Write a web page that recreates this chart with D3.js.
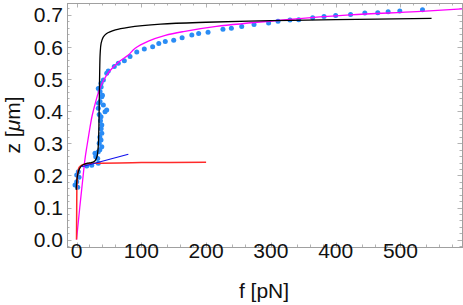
<!DOCTYPE html>
<html>
<head>
<meta charset="utf-8">
<script src="https://cdn.jsdelivr.net/npm/d3@7"></script>
<style>
  html, body { margin: 0; padding: 0; background: #fff; }
  svg { display: block; font-family: "Liberation Sans", Arial, sans-serif; }
</style>
</head>
<body>
<div id="chart"></div>
<script>
// measured points (f in pN, z in um)
const dotsF = [1.8, -2.3, 0.3, 3.9, 0.3, 2.8, 15.7, 23.5, 33.6, 32.7, 29.6, 28.5, 33.6, 36, 39, 35, 37.8, 36, 39, 38, 39, 37, 37.8, 35, 44, 46.6, 33.6, 41.4, 34, 36.3, 39, 40, 36.3, 33.6, 38, 37.8, 41.4, 46.6, 49, 58.3, 64.5, 73.8, 82.6, 93, 104.6,
  117.5, 127, 137, 150, 163, 178, 188.5, 203, 226, 239, 255, 274, 296.5, 311, 329.5, 343, 364.5, 382, 400, 423, 445, 465, 481, 499, 534];
const dotsZ = [0.163, 0.17, 0.18, 0.194, 0.201, 0.211, 0.229, 0.232, 0.238, 0.253, 0.258, 0.269, 0.274, 0.28, 0.289, 0.3, 0.31, 0.32, 0.331, 0.345, 0.357, 0.37, 0.383, 0.39, 0.398, 0.404, 0.409, 0.419, 0.425, 0.43, 0.445, 0.45, 0.461, 0.471, 0.475, 0.487, 0.497, 0.518, 0.525, 0.539, 0.549, 0.557, 0.57, 0.584, 0.594,
  0.601, 0.611, 0.617, 0.621, 0.629, 0.637, 0.642, 0.646, 0.655, 0.658, 0.664, 0.67, 0.675, 0.68, 0.684, 0.685, 0.691, 0.695, 0.698, 0.701, 0.706, 0.707, 0.71, 0.712, 0.716];

const blackF = [-0.5, 0.5, 2, 4, 7, 11, 17, 23, 27, 30, 32, 33.5, 34.5, 35.2, 35.8, 36.5, 38, 41, 46, 60, 80, 130, 200, 300, 400, 548];
const blackZ = [0.155, 0.185, 0.205, 0.218, 0.228, 0.234, 0.238, 0.240, 0.243, 0.250, 0.262, 0.29, 0.35, 0.45, 0.53, 0.58, 0.612, 0.63, 0.641, 0.653, 0.661, 0.671, 0.677, 0.682, 0.685, 0.689];

const magentaF = [0, 5, 10, 13, 16, 20, 24, 29, 34, 42, 50, 65, 80, 90, 111, 137, 165, 216, 319, 422, 525, 595];
const magentaZ = [0, 0.1, 0.195, 0.25, 0.29, 0.34, 0.385, 0.425, 0.46, 0.497, 0.522, 0.553, 0.575, 0.595, 0.618, 0.636, 0.648, 0.664, 0.684, 0.700, 0.710, 0.719];

const redF = [0, 0.3, 0.8, 2, 4, 8, 15, 30, 100, 200];
const redZ = [0, 0.1, 0.18, 0.21, 0.225, 0.232, 0.236, 0.238, 0.240, 0.241];

const blueF = [8, 80];
const blueZ = [0.227, 0.266];

const xTicks = [0, 100, 200, 300, 400, 500];
const yTicks = [0.0, 0.1, 0.2, 0.3, 0.4, 0.5, 0.6, 0.7];

const width = 463, height = 305;
const margin = { left: 67, right: 462, top: 3, bottom: 247 };

const svg = d3.select('#chart').append('svg')
  .attr('width', width)
  .attr('height', height);

const x = d3.scaleLinear().domain([-14.7, 595]).range([margin.left, margin.right]);
const y = d3.scaleLinear().domain([-0.023, 0.737]).range([margin.bottom, margin.top]);

const frameColor = '#a0a0a0';

// frame
svg.append('rect')
  .attr('x', margin.left + 0.5).attr('y', margin.top + 0.5)
  .attr('width', margin.right - margin.left).attr('height', margin.bottom - margin.top)
  .attr('fill', 'none')
  .attr('stroke', frameColor)
  .attr('stroke-width', 1);

// ticks on all four sides, pointing inward
const xMinor = d3.range(0, 600, 20).filter(v => v >= x.domain()[0] && v <= x.domain()[1]);
const yMinor = d3.range(-2, 74, 2).map(v => v / 100).filter(v => v >= y.domain()[0] && v <= y.domain()[1]);
const isMajorX = v => xTicks.includes(v);
const isMajorY = v => yTicks.some(t => Math.abs(t - v) < 1e-9);

const tickG = svg.append('g').attr('stroke', frameColor).attr('stroke-width', 0.8);
xMinor.forEach(v => {
  const len = isMajorX(v) ? 4.5 : 2.5;
  const px = Math.round(x(v)) + 0.5;
  tickG.append('line').attr('x1', px).attr('x2', px).attr('y1', margin.bottom).attr('y2', margin.bottom - len);
  tickG.append('line').attr('x1', px).attr('x2', px).attr('y1', margin.top).attr('y2', margin.top + len);
});
yMinor.forEach(v => {
  const len = isMajorY(v) ? 4.5 : 2.5;
  const py = Math.round(y(v)) + 0.5;
  tickG.append('line').attr('x1', margin.left).attr('x2', margin.left + len).attr('y1', py).attr('y2', py);
  tickG.append('line').attr('x1', margin.right).attr('x2', margin.right - len).attr('y1', py).attr('y2', py);
});

// tick labels
svg.append('g').selectAll('text')
  .data(xTicks).enter().append('text')
  .attr('x', d => x(d))
  .attr('y', 258)
  .attr('text-anchor', 'middle')
  .attr('font-size', 21)
  .attr('fill', '#111')
  .text(d => d);

svg.append('g').selectAll('text')
  .data(yTicks).enter().append('text')
  .attr('x', 63)
  .attr('y', d => y(d))
  .attr('dy', '0.36em')
  .attr('text-anchor', 'end')
  .attr('font-size', 21)
  .attr('fill', '#111')
  .text(d => d.toFixed(1));

// axis titles
svg.append('text')
  .attr('x', 264).attr('y', 298)
  .attr('text-anchor', 'middle')
  .attr('font-size', 21)
  .attr('fill', '#111')
  .text('f [pN]');

const yt = svg.append('text')
  .attr('transform', 'translate(20,125) rotate(-90)')
  .attr('text-anchor', 'middle')
  .attr('font-size', 21)
  .attr('fill', '#111');
yt.append('tspan').text('z [');
yt.append('tspan').attr('font-style', 'italic').text('\u03bc');
yt.append('tspan').text('m]');

const plot = svg.append('g');

// dots
const dots = dotsF.map((f, i) => [f, dotsZ[i]]);
plot.selectAll('circle').data(dots).enter().append('circle')
  .attr('cx', d => x(d[0]))
  .attr('cy', d => y(d[1]))
  .attr('r', 2.5)
  .attr('fill', '#2a8cf5');

const line = d3.line().x(d => x(d[0])).y(d => y(d[1])).curve(d3.curveCatmullRom.alpha(0.5));
const series = (fs, zs) => fs.map((f, i) => [f, zs[i]]);

plot.append('path').attr('d', line(series(magentaF, magentaZ)))
  .attr('fill', 'none').attr('stroke', '#ff00ff').attr('stroke-width', 1.3);
plot.append('path').attr('d', line(series(redF, redZ)))
  .attr('fill', 'none').attr('stroke', '#ff2a2a').attr('stroke-width', 1.5);
plot.append('path').attr('d', d3.line().x(d => x(d[0])).y(d => y(d[1]))(series(blueF, blueZ)))
  .attr('fill', 'none').attr('stroke', '#1010ee').attr('stroke-width', 1.2);
plot.append('path').attr('d', line(series(blackF, blackZ)))
  .attr('fill', 'none').attr('stroke', '#000').attr('stroke-width', 1.3);
</script>
</body>
</html>
